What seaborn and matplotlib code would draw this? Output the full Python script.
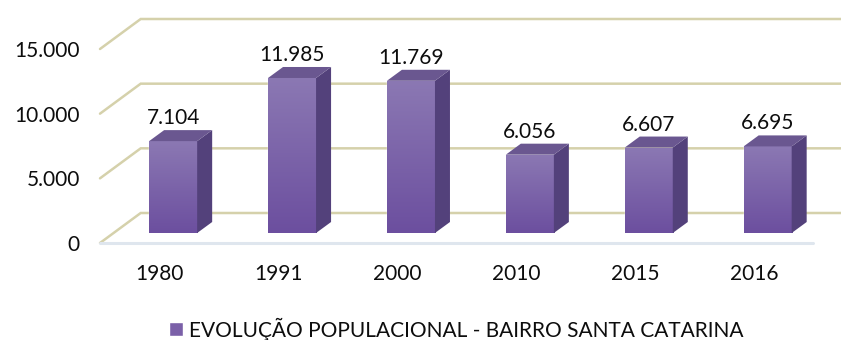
import numpy as np
import pandas as pd
import matplotlib
matplotlib.use("Agg")
import matplotlib.pyplot as plt
import seaborn as sns
from matplotlib.patches import Polygon, Patch
from matplotlib.transforms import IdentityTransform, ScaledTranslation
from matplotlib.colors import LinearSegmentedColormap
from matplotlib.ticker import FuncFormatter

# Data
anos = ["1980", "1991", "2000", "2010", "2015", "2016"]
populacao = [7104, 11985, 11769, 6056, 6607, 6695]
serie = "EVOLUÇÃO POPULACIONAL - BAIRRO SANTA CATARINA"
yticks = [0, 5000, 10000, 15000]

sns.set_theme(style="white")
plt.rcParams["font.family"] = ["Lato", "DejaVu Sans"]

W, H, DPI = 841, 340, 100
FS = 15
TXT = "#0d0d0d"

# pixel offsets of the oblique 3-D projection, relative to the bar front plane
FRONT = np.array([-13.7, -10.0])   # front edge of the floor
BACK = np.array([27.0, 20.0])      # back wall
DEPTH = np.array([15.0, 11.0])     # depth of each bar

fig = plt.figure(figsize=(W / DPI, H / DPI), dpi=DPI)
ax = fig.add_axes([113.7 / W, 107 / H, 713.4 / W, 194 / H])

df = pd.DataFrame({"ano": anos, "populacao": populacao})
sns.barplot(data=df, x="ano", y="populacao", width=0.404, color="#7a62a8",
            saturation=1, ax=ax, zorder=3, errorbar=None)
ax.set_autoscale_on(False)
ax.set_xlim(-0.5, 5.5)
ax.set_ylim(0, 15000)
sns.despine(ax=ax, left=True, bottom=True)


def disp(x, y, off=(0.0, 0.0)):
    return ax.transData.transform((x, y)) + np.asarray(off)


ident = IdentityTransform()

# side wall diagonals + back wall gridlines
for v in yticks:
    p0 = disp(-0.5, v, FRONT)
    p1 = disp(-0.5, v, BACK)
    ax.plot([p0[0], p1[0], W + 10], [p0[1], p1[1], p1[1]], color="#d5d1ab",
            lw=1.8, transform=ident, clip_on=False, zorder=1,
            solid_joinstyle="miter")

# front edge of the floor
f0 = disp(-0.5, 0, FRONT)
f1 = disp(5.5, 0, FRONT)
ax.plot([f0[0], f1[0]], [f0[1], f1[1]], color="#dfe6ee", lw=2.2,
        transform=ident, clip_on=False, zorder=1)

# shaded front faces, plus side and top faces of each bar
grad = LinearSegmentedColormap.from_list("face", ["#6c4f9f", "#8b78b3"])
for patch in list(ax.patches):
    x0, w, h = patch.get_x(), patch.get_width(), patch.get_height()
    x1 = x0 + w
    img = ax.imshow(np.linspace(0, 1, 64)[:, None], cmap=grad, origin="lower",
                    extent=[x0, x1, 0, h], aspect="auto", zorder=3.5,
                    interpolation="bilinear")
    img.set_clip_path(patch)
    side = [disp(x1, 0), disp(x1, h), disp(x1, h, DEPTH), disp(x1, 0, DEPTH)]
    top = [disp(x0, h), disp(x1, h), disp(x1, h, DEPTH), disp(x0, h, DEPTH)]
    ax.add_patch(Polygon(side, closed=True, facecolor="#53417b", edgecolor="none",
                         transform=ident, clip_on=False, zorder=4))
    ax.add_patch(Polygon(top, closed=True, facecolor="#6a5790", edgecolor="none",
                         transform=ident, clip_on=False, zorder=4))

ax.set_xlim(-0.5, 5.5)
ax.set_ylim(0, 15000)


def milhar(v, _pos=None):
    return f"{v:,.0f}".replace(",", ".")


# value labels
for i, v in enumerate(populacao):
    ax.annotate(milhar(v), xy=(i, v), xytext=(0, 23), textcoords="offset pixels",
                ha="center", va="center", fontsize=FS, color=TXT, zorder=6)

# axes ticks, drawn on the front edge of the floor
ax.set_yticks(yticks)
ax.yaxis.set_major_formatter(FuncFormatter(milhar))
ax.tick_params(axis="y", length=0, pad=24.3, labelsize=FS, labelcolor=TXT)
ax.tick_params(axis="x", length=0, pad=15, labelsize=FS, labelcolor=TXT)
ax.set_xlabel("")
ax.set_ylabel("")
for lab in ax.get_yticklabels():
    lab.set_transform(lab.get_transform() + ScaledTranslation(0, FRONT[1] / DPI, fig.dpi_scale_trans))
for lab in ax.get_xticklabels():
    lab.set_transform(lab.get_transform() + ScaledTranslation(FRONT[0] / DPI, FRONT[1] / DPI, fig.dpi_scale_trans))

# legend
fig.legend(handles=[Patch(facecolor="#7b60a8", label=serie)], loc="center",
           bbox_to_anchor=(456.5 / W, 11 / H), frameon=False, fontsize=FS,
           handlelength=0.68, handleheight=0.68, handletextpad=0.3,
           labelcolor=TXT, borderpad=0)

fig.savefig("out.png", dpi=DPI)
